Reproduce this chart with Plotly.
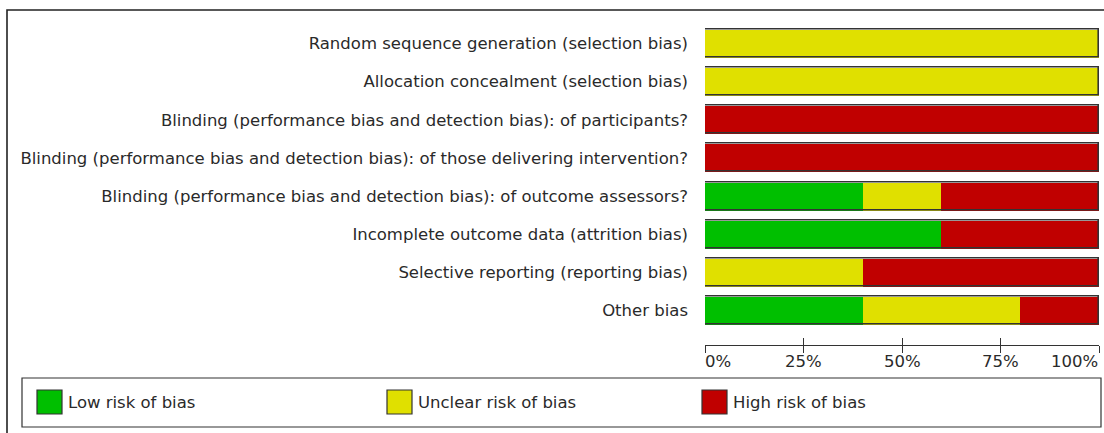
import plotly.graph_objects as go

domains = [
    "Random sequence generation (selection bias)",
    "Allocation concealment (selection bias)",
    "Blinding (performance bias and detection bias): of participants?",
    "Blinding (performance bias and detection bias): of those delivering intervention?",
    "Blinding (performance bias and detection bias): of outcome assessors?",
    "Incomplete outcome data (attrition bias)",
    "Selective reporting (reporting bias)",
    "Other bias",
]
low = [0, 0, 0, 0, 40, 60, 0, 40]
unclear = [100, 100, 0, 0, 20, 0, 40, 40]
high = [0, 0, 100, 100, 40, 40, 60, 20]
tick_vals = [0, 25, 50, 75, 100]
tick_labels = ["0%", "25%", "50%", "75%", "100%"]
legend_names = ["Low risk of bias", "Unclear risk of bias", "High risk of bias"]
colors = ["#00bf00", "#e0e000", "#c00000"]

W, H = 1104, 433
def px(x):
    return x / W
def py(y):
    return 1 - y / H

FONT = "DejaVu Sans"
FS = 16.5
TXT = "#2a2a2a"
BW = 0.735

fig = go.Figure()
bases = [[0] * len(domains), low, [a + b for a, b in zip(low, unclear)]]
for vals, base, col, name in zip([low, unclear, high], bases, colors, legend_names):
    fig.add_trace(go.Bar(
        y=domains, x=vals, base=base, orientation="h", width=BW,
        marker=dict(color=col, line=dict(width=0)), name=name, showlegend=False,
        hoverinfo="skip",
    ))
totals = [a + b + c for a, b, c in zip(low, unclear, high)]
fig.add_trace(go.Bar(
    y=domains, x=totals, base=[0] * len(domains), orientation="h", width=BW,
    marker=dict(color="rgba(0,0,0,0)", line=dict(color="#333333", width=1.6)),
    showlegend=False, hoverinfo="skip",
))

x0, x1 = px(705), px(1099)
ytop, ybot = py(24.5), py(329.5)
axis_y = py(345)

fig.update_layout(
    width=W, height=H, margin=dict(l=0, r=0, t=0, b=0),
    paper_bgcolor="white", plot_bgcolor="white",
    barmode="overlay", bargap=0,
    font=dict(family=FONT, size=FS, color=TXT),
    xaxis=dict(domain=[x0, x1], range=[0, 100], anchor="free", position=axis_y,
               showgrid=False, zeroline=False, showline=True, linecolor="#333333", linewidth=1,
               tickvals=tick_vals, ticks="outside", ticklen=7, tickcolor="#333333", tickwidth=1,
               showticklabels=False, fixedrange=True),
    xaxis2=dict(domain=[x0, x1], range=[0, 100], anchor="free", position=axis_y, overlaying="x",
                showgrid=False, zeroline=False, showline=False,
                tickvals=tick_vals, ticks="inside", ticklen=7, tickcolor="#333333", tickwidth=1,
                showticklabels=False),
    yaxis=dict(domain=[ybot, ytop], autorange="reversed", categoryorder="array",
               categoryarray=domains, showgrid=False, zeroline=False, showline=False,
               ticks="", ticklabelstandoff=16, tickfont=dict(family=FONT, size=FS, color=TXT)),
)
fig.add_trace(go.Scatter(x=[0], y=[domains[0]], xaxis="x2", mode="markers",
                         marker=dict(opacity=0), showlegend=False, hoverinfo="skip"))

for i, (v, t) in enumerate(zip(tick_vals, tick_labels)):
    anchor = "left" if i == 0 else ("right" if i == len(tick_vals) - 1 else "center")
    fig.add_annotation(x=v, xref="x", y=py(350), yref="paper", text=t, showarrow=False,
                       xanchor=anchor, yanchor="top", font=dict(family=FONT, size=FS, color=TXT),
                       xshift=-2 if i == 0 else (1 if i == len(tick_vals) - 1 else 0))

fig.add_shape(type="rect", xref="paper", yref="paper", x0=px(7), x1=px(1112), y0=py(445), y1=py(10),
              line=dict(color="#222222", width=1.6), fillcolor="rgba(0,0,0,0)", layer="below")
fig.add_shape(type="rect", xref="paper", yref="paper", x0=px(22), x1=px(1101), y0=py(427), y1=py(378),
              line=dict(color="#333333", width=1.2), fillcolor="rgba(0,0,0,0)")
leg_x = [37, 387, 702]
for lx, name, col in zip(leg_x, legend_names, colors):
    fig.add_shape(type="rect", xref="paper", yref="paper", x0=px(lx), x1=px(lx + 25),
                  y0=py(414), y1=py(390), line=dict(color="#333333", width=1.2), fillcolor=col)
    fig.add_annotation(x=px(lx + 29), xref="paper", y=py(402), yref="paper", text=name,
                       showarrow=False, xanchor="left", yanchor="middle",
                       font=dict(family=FONT, size=FS, color=TXT))

fig.write_html("out.html", config={"displayModeBar": False},
               post_script="document.body.style.margin='0';document.body.style.padding='0';document.documentElement.style.overflow='hidden';")
